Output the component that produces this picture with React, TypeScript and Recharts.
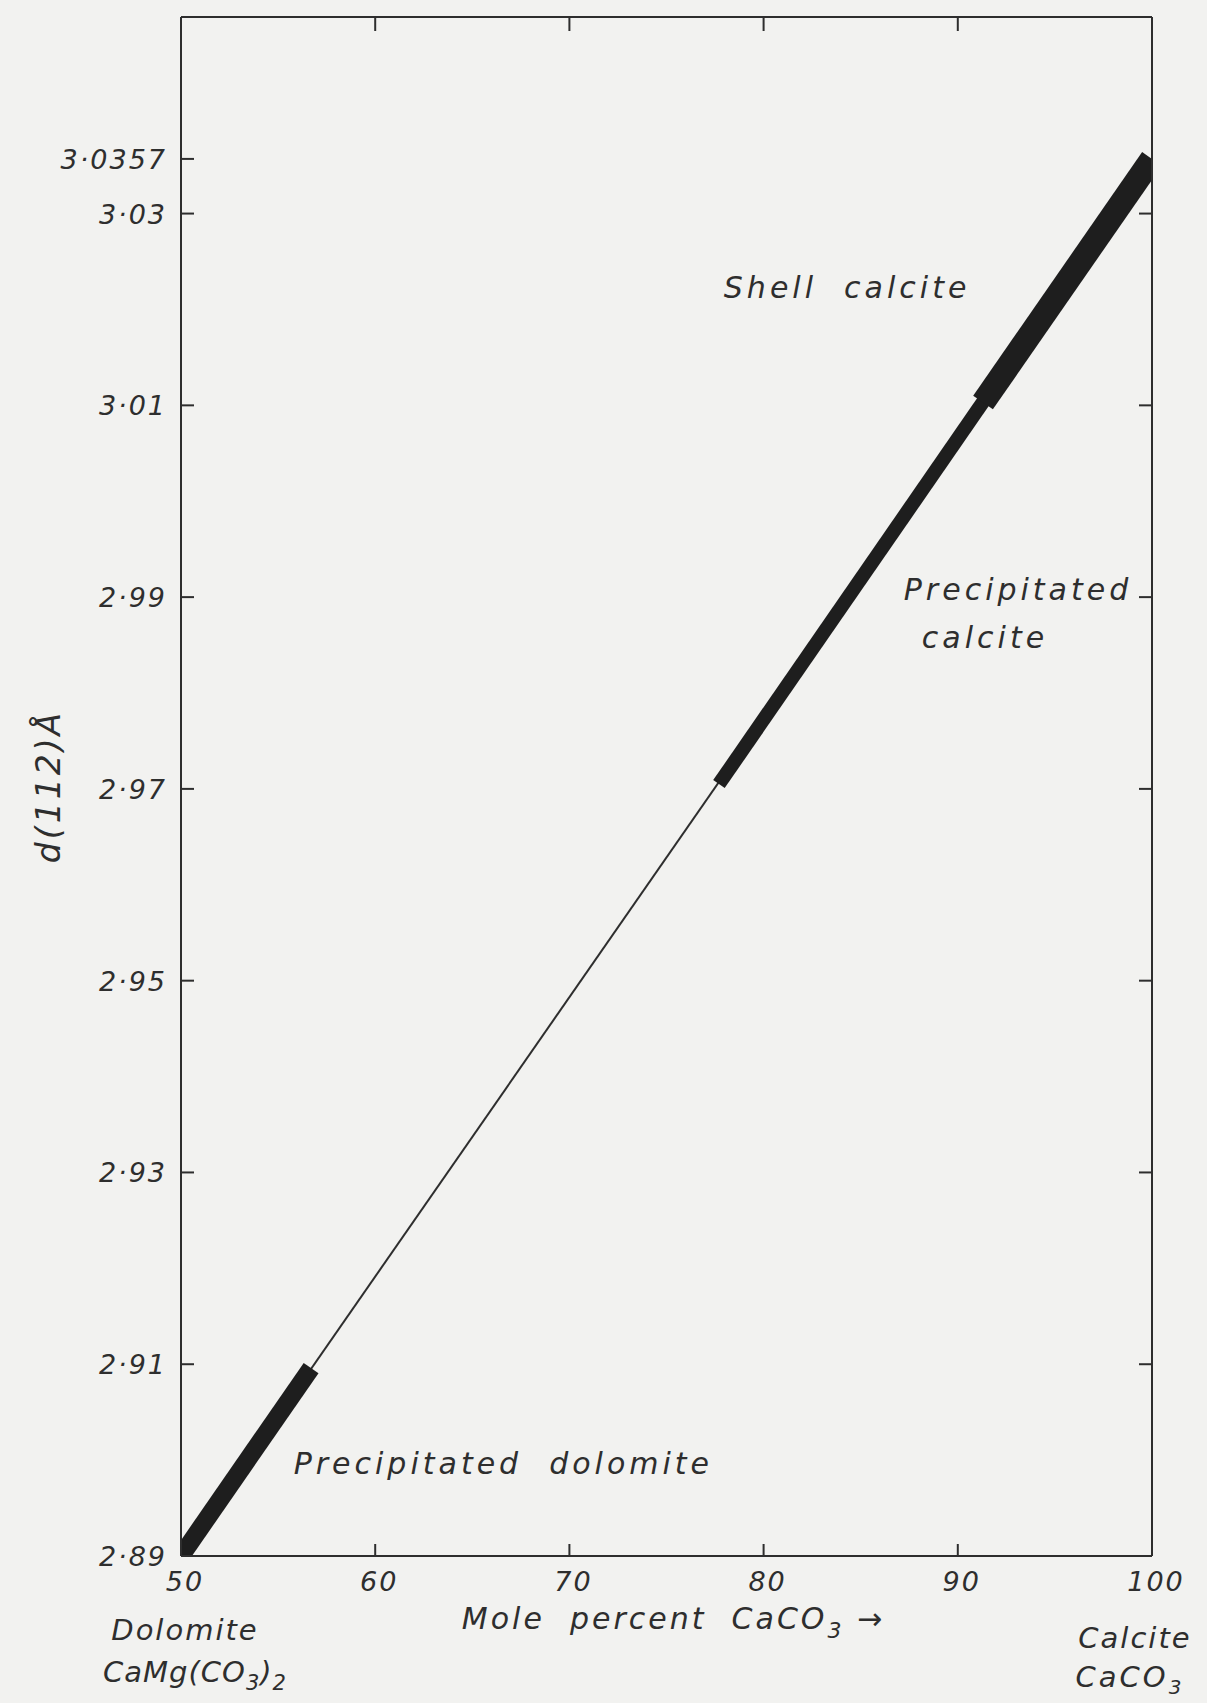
import { LineChart, Line, XAxis, YAxis, ReferenceDot } from 'recharts';

// axis ticks
const xTicks = [50, 60, 70, 80, 90, 100];
const topTicks = [60, 70, 80, 90];
const yTicks = [2.89, 2.91, 2.93, 2.95, 2.97, 2.99, 3.01, 3.03, 3.0357];
const rightTicks = [2.91, 2.93, 2.95, 2.97, 2.99, 3.01, 3.03];

// d(112) vs mole % CaCO3
const trendLine = [{ x: 50, y: 2.89 }, { x: 100, y: 3.0357 }];
const dolomiteBand = [{ x: 50, y: 2.89 }, { x: 56.7, y: 2.9096 }];
const precipCalciteBand = [{ x: 77.7, y: 2.9705 }, { x: 92, y: 3.0124 }];
const shellCalciteBand = [{ x: 91.3, y: 3.0103 }, { x: 100, y: 3.0357 }];

// annotation anchors (data coords)
const notes = [
  { x: 84.3, y: 3.0222, text: 'Shell  calcite' },
  { x: 93.1, y: 2.9907, text: 'Precipitated' },
  { x: 91.4, y: 2.9857, text: 'calcite' },
  { x: 66.6, y: 2.8996, text: 'Precipitated  dolomite' },
];

const W = 1207;
const H = 1703;
const INK = '#2e2e2e';
const PAPER = '#f2f2f0';
const FONT = "'DejaVu Sans', 'Liberation Sans', sans-serif";

const txt = {
  fontFamily: FONT,
  fontStyle: 'italic' as const,
  fontWeight: 200,
  fill: INK,
  style: { whiteSpace: 'pre' as const },
};

const fmt = (v: number) => String(v).replace('.', '·');

function BottomTick(props: any) {
  const { x, y, payload } = props;
  const v = payload.value as number;
  return (
    <g>
      {v !== 50 && v !== 100 && <line x1={x} y1={y} x2={x} y2={y - 12} stroke={INK} strokeWidth={2} />}
      <text x={x + 4} y={y + 35} textAnchor="middle" fontSize={27} letterSpacing={2} {...txt}>{v}</text>
      {v === 50 && (
        <>
          <text x={x + 4} y={y + 84} textAnchor="middle" fontSize={29} letterSpacing={2} {...txt}>Dolomite</text>
          <text x={x + 14} y={y + 126} textAnchor="middle" fontSize={29} letterSpacing={1} {...txt}>
            CaMg(CO<tspan dy={8} fontSize={21}>3</tspan><tspan dy={-8}>)</tspan><tspan dy={8} fontSize={21}>2</tspan>
          </text>
        </>
      )}
      {v === 100 && (
        <>
          <text x={x - 17} y={y + 92} textAnchor="middle" fontSize={29} letterSpacing={2} {...txt}>Calcite</text>
          <text x={x - 22} y={y + 131} textAnchor="middle" fontSize={29} letterSpacing={3} {...txt}>
            CaCO<tspan dy={7} fontSize={20}>3</tspan>
          </text>
        </>
      )}
    </g>
  );
}

function TopTick(props: any) {
  const { x, y } = props;
  return <line x1={x} y1={y} x2={x} y2={y + 14} stroke={INK} strokeWidth={2} />;
}

function LeftTick(props: any) {
  const { x, y, payload } = props;
  const v = payload.value as number;
  return (
    <g>
      {v !== 2.89 && <line x1={x} y1={y} x2={x + 13} y2={y} stroke={INK} strokeWidth={2} />}
      <text x={x - 14} y={y + 10} textAnchor="end" fontSize={27} letterSpacing={2} {...txt}>{fmt(v)}</text>
    </g>
  );
}

function RightTick(props: any) {
  const { x, y } = props;
  return <line x1={x} y1={y} x2={x - 13} y2={y} stroke={INK} strokeWidth={2} />;
}

function YTitle(props: any) {
  const vb = props.viewBox;
  const cy = vb.y + vb.height / 2;
  const cx = 49;
  return (
    <text x={cx} y={cy} transform={`rotate(-90 ${cx} ${cy})`} dy={11} textAnchor="middle" fontSize={33} letterSpacing={3} {...txt}>
      d(112)Å
    </text>
  );
}

function XTitle(props: any) {
  const vb = props.viewBox;
  const cx = vb.x + vb.width / 2 + 7;
  return (
    <text x={cx} y={vb.y + 73} textAnchor="middle" fontSize={30} letterSpacing={3} {...txt}>
      Mole  percent  CaCO<tspan dy={9} fontSize={22}>3</tspan><tspan dy={-9}> →</tspan>
    </text>
  );
}

const noteLabel = (text: string) => (props: any) => {
  const vb = props.viewBox;
  const cx = vb.x + (vb.width || 0) / 2;
  const cy = vb.y + (vb.height || 0) / 2;
  return (
    <text x={cx} y={cy + 10} textAnchor="middle" fontSize={30} letterSpacing={4} {...txt}>{text}</text>
  );
};

export default function App() {
  return (
    <div style={{ width: W, height: H, background: PAPER }}>
      <style>{`body{margin:0;background:${PAPER};}`}</style>
      <LineChart width={W} height={H} margin={{ top: 16, right: 54, bottom: 146, left: 180 }}>
        <XAxis
          xAxisId="bottom"
          orientation="bottom"
          dataKey="x"
          type="number"
          domain={[50, 100]}
          allowDataOverflow
          ticks={xTicks}
          interval={0}
          height={1}
          tickSize={0}
          tickMargin={0}
          tick={<BottomTick />}
          axisLine={{ stroke: INK, strokeWidth: 2 }}
          label={<XTitle />}
        />
        <XAxis
          xAxisId="top"
          orientation="top"
          dataKey="x"
          type="number"
          domain={[50, 100]}
          allowDataOverflow
          ticks={topTicks}
          interval={0}
          height={1}
          tickSize={0}
          tickMargin={0}
          tick={<TopTick />}
          axisLine={{ stroke: INK, strokeWidth: 2 }}
        />
        <YAxis
          yAxisId="left"
          orientation="left"
          type="number"
          domain={[2.89, 3.0505]}
          allowDataOverflow
          ticks={yTicks}
          interval={0}
          width={1}
          tickSize={0}
          tickMargin={0}
          tick={<LeftTick />}
          axisLine={{ stroke: INK, strokeWidth: 2 }}
          label={<YTitle />}
        />
        <YAxis
          yAxisId="right"
          orientation="right"
          type="number"
          domain={[2.89, 3.0505]}
          allowDataOverflow
          ticks={rightTicks}
          interval={0}
          width={1}
          tickSize={0}
          tickMargin={0}
          tick={<RightTick />}
          axisLine={{ stroke: INK, strokeWidth: 2 }}
        />
        <Line xAxisId="bottom" yAxisId="left" data={trendLine} dataKey="y" stroke={INK} strokeWidth={2} dot={false} isAnimationActive={false} />
        <Line xAxisId="bottom" yAxisId="left" data={dolomiteBand} dataKey="y" stroke="#1e1e1e" strokeWidth={18} strokeLinecap="butt" dot={false} isAnimationActive={false} />
        <Line xAxisId="bottom" yAxisId="left" data={precipCalciteBand} dataKey="y" stroke="#1e1e1e" strokeWidth={14} strokeLinecap="butt" dot={false} isAnimationActive={false} />
        <Line xAxisId="bottom" yAxisId="left" data={shellCalciteBand} dataKey="y" stroke="#1e1e1e" strokeWidth={24} strokeLinecap="butt" dot={false} isAnimationActive={false} />
        {notes.map((n) => (
          <ReferenceDot key={n.text} xAxisId="bottom" yAxisId="left" x={n.x} y={n.y} r={0} fill="none" stroke="none" label={noteLabel(n.text)} />
        ))}
      </LineChart>
    </div>
  );
}
